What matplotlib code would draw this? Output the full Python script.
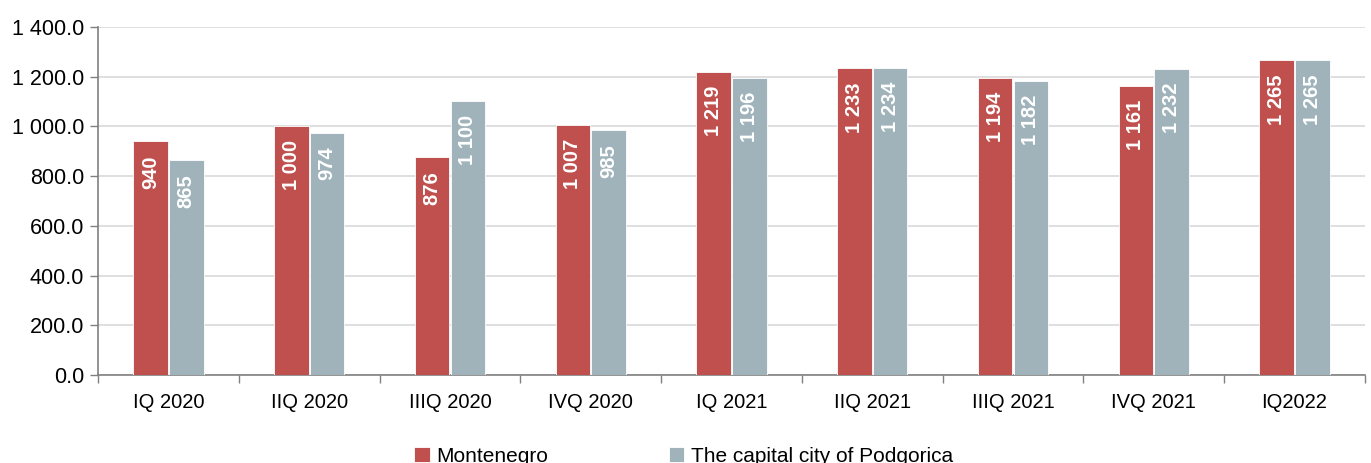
import matplotlib
matplotlib.use("Agg")
import matplotlib.pyplot as plt
import numpy as np
from matplotlib.ticker import FuncFormatter, FixedLocator

plt.rcParams['font.family'] = ['Liberation Sans', 'DejaVu Sans']

quarters = ['IQ 2020', 'IIQ 2020', 'IIIQ 2020', 'IVQ 2020', 'IQ 2021',
            'IIQ 2021', 'IIIQ 2021', 'IVQ 2021', 'IQ2022']
montenegro = [940, 1000, 876, 1007, 1219, 1233, 1194, 1161, 1265]
podgorica = [865, 974, 1100, 985, 1196, 1234, 1182, 1232, 1265]

RED = '#C0504D'
GREY = '#A0B3BA'


def fmt_space(v, decimals=0):
    s = f"{v:,.{decimals}f}"
    return s.replace(',', ' ')


fig = plt.figure(figsize=(13.71, 4.63), dpi=100)
ax = fig.add_axes([0.0715, 0.19, 0.924, 0.752])

x = np.arange(len(quarters))
w = 0.245
b1 = ax.bar(x - 0.127, montenegro, w, color=RED, edgecolor='white', linewidth=0.6,
            label='Montenegro', zorder=3)
b2 = ax.bar(x + 0.127, podgorica, w, color=GREY, edgecolor='white', linewidth=0.6,
            label='The capital city of Podgorica', zorder=3)

for bars, vals in ((b1, montenegro), (b2, podgorica)):
    for rect, v in zip(bars, vals):
        ax.annotate(fmt_space(v), (rect.get_x() + rect.get_width() / 2, v),
                    xytext=(0, -10), textcoords='offset points',
                    rotation=90, ha='center', va='top', color='white',
                    fontsize=14.5, fontweight='bold', zorder=4)

ax.set_xlim(-0.5, len(quarters) - 0.5)
ax.set_ylim(0, 1400)
ax.set_yticks(np.arange(0, 1401, 200))
ax.yaxis.set_major_formatter(FuncFormatter(lambda v, p: fmt_space(v, 1)))
ax.set_xticks(x)
ax.set_xticklabels(quarters)
ax.xaxis.set_minor_locator(FixedLocator(np.arange(-0.5, len(quarters), 1)))
ax.tick_params(axis='x', which='major', length=0, pad=13, labelsize=14.5)
ax.tick_params(axis='x', which='minor', length=6, color='#808080', width=1)
ax.tick_params(axis='y', length=6, color='#808080', width=1, labelsize=15.5, pad=4)

ax.grid(axis='y', color='#d9d9d9', linewidth=1.2, zorder=0)
for s in ('top', 'right'):
    ax.spines[s].set_visible(False)
for s in ('left', 'bottom'):
    ax.spines[s].set_color('#808080')
    ax.spines[s].set_linewidth(1.2)

fig.legend(handles=[b1, b2], loc='center', bbox_to_anchor=(0.4985, 0.015), ncol=2,
           frameon=False, fontsize=15, handlelength=0.75, handleheight=0.75,
           handletextpad=0.3, columnspacing=5.8)

fig.savefig('out.png', dpi=100)
